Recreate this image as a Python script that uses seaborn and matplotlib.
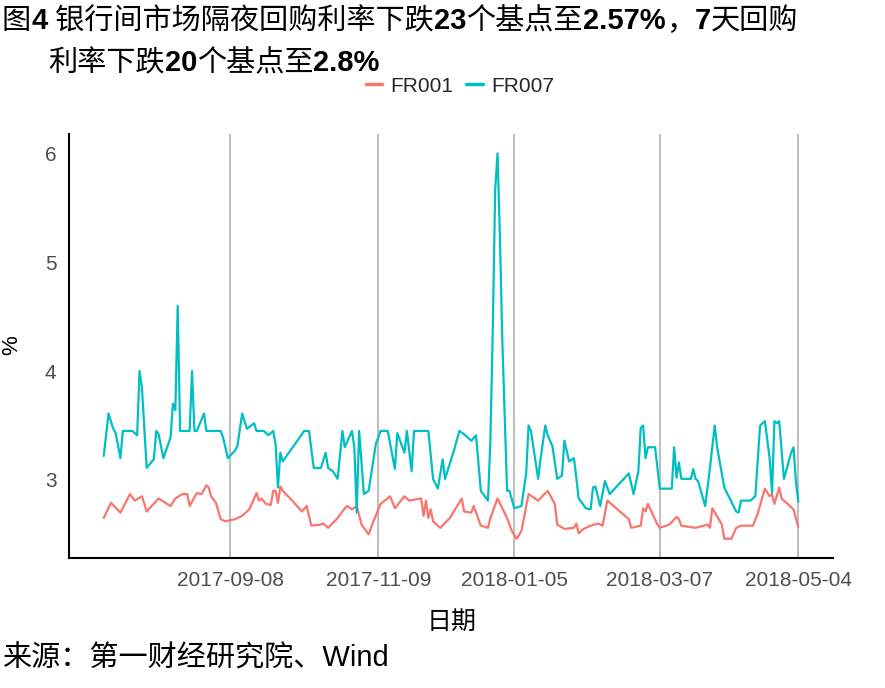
import re
import numpy as np
import pandas as pd
import matplotlib
matplotlib.use("Agg")
import matplotlib.pyplot as plt
import matplotlib.dates as mdates
import seaborn as sns

# ---------------- data ----------------
fr001_dates = [
    "2017-07-17", "2017-07-20", "2017-07-24", "2017-07-28", "2017-07-30", "2017-08-02", "2017-08-04",
    "2017-08-09", "2017-08-14", "2017-08-16", "2017-08-19", "2017-08-21", "2017-08-22", "2017-08-25",
    "2017-08-27", "2017-08-29", "2017-08-30", "2017-08-31", "2017-09-02", "2017-09-04", "2017-09-06",
    "2017-09-10", "2017-09-13", "2017-09-16", "2017-09-19", "2017-09-20", "2017-09-21", "2017-09-23",
    "2017-09-25", "2017-09-26", "2017-09-27", "2017-09-28", "2017-09-29", "2017-09-30", "2017-10-04",
    "2017-10-08", "2017-10-10", "2017-10-12", "2017-10-16", "2017-10-17", "2017-10-19", "2017-10-23",
    "2017-10-26", "2017-10-27", "2017-10-29", "2017-10-31", "2017-11-02", "2017-11-05", "2017-11-07",
    "2017-11-10", "2017-11-14", "2017-11-16", "2017-11-20", "2017-11-22", "2017-11-27", "2017-11-28",
    "2017-11-29", "2017-11-30", "2017-12-01", "2017-12-02", "2017-12-05", "2017-12-09", "2017-12-14",
    "2017-12-15", "2017-12-18", "2017-12-19", "2017-12-22", "2017-12-25", "2017-12-26", "2017-12-29",
    "2018-01-02", "2018-01-04", "2018-01-06", "2018-01-08", "2018-01-11", "2018-01-15", "2018-01-19",
    "2018-01-22", "2018-01-23", "2018-01-26", "2018-01-30", "2018-01-31", "2018-02-01", "2018-02-03",
    "2018-02-06", "2018-02-09", "2018-02-11", "2018-02-13", "2018-02-22", "2018-02-23", "2018-02-27",
    "2018-02-28", "2018-03-01", "2018-03-02", "2018-03-06", "2018-03-07", "2018-03-11", "2018-03-14",
    "2018-03-15", "2018-03-16", "2018-03-22", "2018-03-27", "2018-03-28", "2018-03-29", "2018-04-02",
    "2018-04-03", "2018-04-06", "2018-04-08", "2018-04-10", "2018-04-15", "2018-04-17", "2018-04-20",
    "2018-04-22", "2018-04-23", "2018-04-24", "2018-04-26", "2018-04-27", "2018-05-02", "2018-05-04",
]
fr001_values = [
    2.65, 2.79, 2.70, 2.87, 2.81, 2.85, 2.71,
    2.83, 2.76, 2.83, 2.87, 2.87, 2.76, 2.88,
    2.87, 2.95, 2.93, 2.85, 2.79, 2.64, 2.62,
    2.64, 2.67, 2.73, 2.88, 2.81, 2.83, 2.78,
    2.77, 2.90, 2.90, 2.79, 2.94, 2.90, 2.81,
    2.71, 2.76, 2.58, 2.59, 2.60, 2.56, 2.65,
    2.74, 2.76, 2.73, 2.76, 2.59, 2.50, 2.62,
    2.78, 2.85, 2.74, 2.85, 2.81, 2.83, 2.67,
    2.81, 2.65, 2.73, 2.62, 2.56, 2.65, 2.83,
    2.71, 2.70, 2.76, 2.58, 2.56, 2.65, 2.83,
    2.65, 2.53, 2.46, 2.53, 2.87, 2.81, 2.90,
    2.78, 2.59, 2.55, 2.56, 2.60, 2.51, 2.55,
    2.58, 2.60, 2.58, 2.81, 2.64, 2.56, 2.58,
    2.74, 2.71, 2.78, 2.59, 2.56, 2.59, 2.66,
    2.64, 2.58, 2.56, 2.59, 2.56, 2.74, 2.59,
    2.46, 2.46, 2.56, 2.58, 2.58, 2.69, 2.92,
    2.85, 2.87, 2.78, 2.93, 2.83, 2.73, 2.57,
]

fr007_dates = [
    "2017-07-17", "2017-07-19", "2017-07-21", "2017-07-22", "2017-07-24", "2017-07-25", "2017-07-29",
    "2017-07-31", "2017-08-01", "2017-08-02", "2017-08-04", "2017-08-07", "2017-08-08", "2017-08-09",
    "2017-08-11", "2017-08-14", "2017-08-15", "2017-08-16", "2017-08-17", "2017-08-18", "2017-08-22",
    "2017-08-23", "2017-08-24", "2017-08-25", "2017-08-28", "2017-08-29", "2017-09-04", "2017-09-05",
    "2017-09-07", "2017-09-10", "2017-09-11", "2017-09-13", "2017-09-15", "2017-09-18", "2017-09-19",
    "2017-09-22", "2017-09-24", "2017-09-26", "2017-09-27", "2017-09-28", "2017-09-29", "2017-09-30",
    "2017-10-09", "2017-10-11", "2017-10-13", "2017-10-16", "2017-10-18", "2017-10-19", "2017-10-21",
    "2017-10-23", "2017-10-25", "2017-10-26", "2017-10-29", "2017-10-30", "2017-10-31", "2017-11-01",
    "2017-11-03", "2017-11-05", "2017-11-08", "2017-11-10", "2017-11-13", "2017-11-16", "2017-11-17",
    "2017-11-20", "2017-11-21", "2017-11-23", "2017-11-24", "2017-11-30", "2017-12-02", "2017-12-04",
    "2017-12-06", "2017-12-07", "2017-12-11", "2017-12-13", "2017-12-15", "2017-12-18", "2017-12-20",
    "2017-12-22", "2017-12-25", "2017-12-26", "2017-12-27", "2017-12-28", "2017-12-29", "2017-12-30",
    "2017-12-31", "2018-01-02", "2018-01-03", "2018-01-05", "2018-01-08", "2018-01-10", "2018-01-11",
    "2018-01-12", "2018-01-15", "2018-01-16", "2018-01-18", "2018-01-19", "2018-01-21", "2018-01-23",
    "2018-01-25", "2018-01-26", "2018-01-28", "2018-01-30", "2018-01-31", "2018-02-01", "2018-02-04",
    "2018-02-06", "2018-02-07", "2018-02-08", "2018-02-10", "2018-02-12", "2018-02-14", "2018-02-22",
    "2018-02-24", "2018-02-26", "2018-02-27", "2018-02-28", "2018-03-01", "2018-03-02", "2018-03-05",
    "2018-03-06", "2018-03-07", "2018-03-12", "2018-03-13", "2018-03-14", "2018-03-15", "2018-03-16",
    "2018-03-20", "2018-03-21", "2018-03-22", "2018-03-23", "2018-03-26", "2018-03-28", "2018-03-30",
    "2018-03-31", "2018-04-03", "2018-04-08", "2018-04-09", "2018-04-10", "2018-04-14", "2018-04-16",
    "2018-04-18", "2018-04-20", "2018-04-22", "2018-04-23", "2018-04-24", "2018-04-25", "2018-04-26",
    "2018-04-28", "2018-05-01", "2018-05-02", "2018-05-03", "2018-05-04",
]
fr007_values = [
    3.22, 3.61, 3.47, 3.43, 3.20, 3.45, 3.45,
    3.41, 4.00, 3.85, 3.11, 3.19, 3.45, 3.42,
    3.20, 3.39, 3.70, 3.64, 4.60, 3.45, 3.45,
    4.00, 3.45, 3.45, 3.61, 3.45, 3.45, 3.39,
    3.20, 3.27, 3.31, 3.61, 3.47, 3.52, 3.45,
    3.45, 3.41, 3.45, 3.33, 2.93, 3.25, 3.17,
    3.45, 3.45, 3.11, 3.11, 3.25, 3.11, 3.08,
    3.01, 3.45, 3.30, 3.45, 3.30, 2.70, 3.45,
    2.87, 2.90, 3.33, 3.45, 3.45, 3.10, 3.43,
    3.25, 3.45, 3.08, 3.45, 3.45, 3.01, 2.92,
    3.19, 3.01, 3.29, 3.45, 3.42, 3.36, 3.41,
    2.90, 2.81, 3.36, 4.37, 5.66, 6.00, 5.23,
    4.28, 2.90, 2.90, 2.74, 2.76, 3.06, 3.50,
    3.45, 3.01, 3.19, 3.50, 3.41, 3.31, 3.01,
    3.04, 3.36, 3.17, 3.20, 3.02, 2.83, 2.74,
    2.73, 2.93, 2.94, 2.76, 2.99, 2.87, 3.06,
    2.87, 3.08, 3.48, 3.50, 3.20, 3.30, 3.30,
    3.11, 2.92, 2.92, 3.30, 3.02, 3.16, 3.01,
    3.01, 3.10, 3.01, 2.99, 2.76, 3.11, 3.50,
    3.30, 2.93, 2.71, 2.70, 2.81, 2.81, 2.85,
    3.50, 3.54, 3.20, 2.88, 3.54, 3.52, 3.54,
    3.01, 3.25, 3.30, 2.99, 2.80,
]

series_names = ["FR001", "FR007"]
series_colors = ["#F8766D", "#00BFC4"]
tick_dates = ["2017-09-08", "2017-11-09", "2018-01-05", "2018-03-07", "2018-05-04"]
y_ticks = [3, 4, 5, 6]
title_line1 = "图4 银行间市场隔夜回购利率下跌23个基点至2.57%，7天回购"
title_line2 = "利率下跌20个基点至2.8%"
x_label = "日期"
y_label = "%"
source_text = "来源：第一财经研究院、Wind"

# ---------------- build table ----------------
df = pd.concat([
    pd.DataFrame({"date": pd.to_datetime(fr001_dates), "value": fr001_values, "series": series_names[0]}),
    pd.DataFrame({"date": pd.to_datetime(fr007_dates), "value": fr007_values, "series": series_names[1]}),
], ignore_index=True)

# ---------------- style ----------------
sns.set_style("white")
fam = ["Liberation Sans", "Noto Sans CJK SC", "DejaVu Sans"]
plt.rcParams["font.family"] = fam

W, H = 885, 688
fig = plt.figure(figsize=(W / 100, H / 100), dpi=100)
ax = fig.add_axes([69 / W, 1 - 558 / H, (833 - 69) / W, (558 - 134) / H])

sns.lineplot(data=df, x="date", y="value", hue="series", hue_order=series_names,
             palette=series_colors, linewidth=1.6, ax=ax, legend=True, estimator=None)

# limits with 5% expansion (ggplot-like)
dmin, dmax = df["date"].min(), df["date"].max()
span = dmax - dmin
ax.set_xlim(dmin - span * 0.05, dmax + span * 0.05)
vmin, vmax = df["value"].min(), df["value"].max()
vr = vmax - vmin
ax.set_ylim(vmin - vr * 0.05, vmax + vr * 0.05)

ax.set_xticks(pd.to_datetime(tick_dates))
ax.xaxis.set_major_formatter(mdates.DateFormatter("%Y-%m-%d"))
ax.set_yticks(y_ticks)
ax.set_yticklabels([str(t) for t in y_ticks])

ax.grid(axis="x", color="#B3B3B3", linewidth=1.2)
ax.grid(axis="y", visible=False)
ax.set_axisbelow(True)

for s in ["top", "right"]:
    ax.spines[s].set_visible(False)
for s in ["left", "bottom"]:
    ax.spines[s].set_color("black")
    ax.spines[s].set_linewidth(1.5)

ax.tick_params(axis="both", which="major", length=5, width=1.2, color="#333333",
               labelsize=15, labelcolor="#4D4D4D", pad=4)

ax.set_xlabel(x_label, fontsize=18, color="black")
ax.set_ylabel(y_label, fontsize=16, color="black")
ax.xaxis.set_label_coords((452 - 69) / (833 - 69), -(622 - 558) / (558 - 134))
ax.xaxis.label.set_va("center")
ax.yaxis.set_label_coords(-(69 - 12) / (833 - 69), (558 - 345) / (558 - 134))
ax.yaxis.label.set_va("center")

# legend
leg = ax.legend(loc="center", bbox_to_anchor=(460 / W, 1 - 86 / H), bbox_transform=fig.transFigure,
                ncol=2, frameon=False, fontsize=15, handlelength=0.8, handletextpad=0.4,
                columnspacing=0.6, title=None)
for line in leg.get_lines():
    line.set_linewidth(2.5)


# titles: Latin digits/percent drawn bold, CJK regular (as in reference)
def draw_runs(text, x_px, y_px, size):
    renderer = fig.canvas.get_renderer()
    parts = re.findall(r"[0-9.%]+|[^0-9.%]+", text)
    x = x_px
    for p in parts:
        bold = bool(re.fullmatch(r"[0-9.%]+", p))
        t = fig.text(x / W, 1 - y_px / H, p, fontsize=size, ha="left", va="center",
                     color="black", fontweight="bold" if bold else "normal")
        bb = t.get_window_extent(renderer=renderer)
        x += bb.width


draw_runs(title_line1, 2, 21, 21)
draw_runs(title_line2, 48, 63, 21)
fig.text(2 / W, 1 - 659 / H, source_text, fontsize=21, ha="left", va="center", color="black")

fig.savefig("out.png", dpi=100)
